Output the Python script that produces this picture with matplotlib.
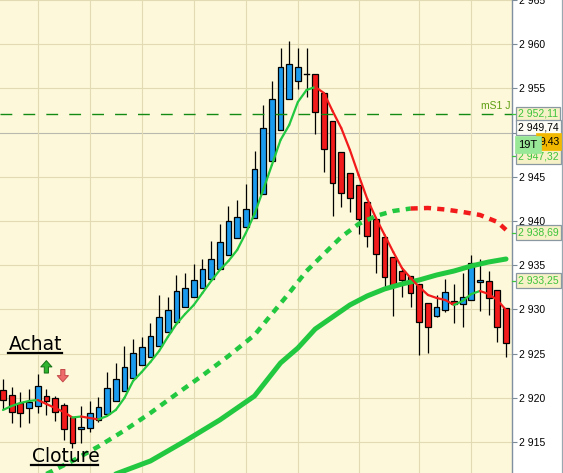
import numpy as np
import matplotlib.pyplot as plt
from matplotlib.patches import Rectangle
from matplotlib.lines import Line2D
from matplotlib.collections import LineCollection
from matplotlib.transforms import blended_transform_factory

# bars (OHLC)
opens = [2920.9, 2920.3, 2919.4, 2918.8, 2919.1, 2920.2, 2920.0, 2919.2, 2917.8, 2916.5,
         2916.6, 2917.5, 2918.2, 2919.6, 2920.8, 2922.2, 2923.7, 2924.6, 2925.9, 2927.4,
         2928.6, 2930.3, 2931.4, 2932.4, 2933.4, 2934.6, 2936.2, 2938.1, 2939.3, 2940.3,
         2943.1, 2946.8, 2950.3, 2953.8, 2955.8, 2956.6, 2956.6, 2954.5, 2951.3, 2947.8,
         2945.4, 2944.1, 2942.1, 2940.2, 2938.2, 2935.9, 2934.3, 2933.8, 2932.9, 2930.7,
         2929.3, 2929.9, 2931.0, 2930.6, 2931.1, 2933.1, 2933.2, 2932.2, 2930.2]
highs = [2922.1, 2921.2, 2920.7, 2921.0, 2922.7, 2921.0, 2920.2, 2919.4, 2917.8, 2919.1,
         2919.6, 2920.1, 2922.9, 2923.9, 2925.9, 2926.7, 2926.9, 2928.5, 2931.6, 2931.4,
         2933.9, 2934.1, 2935.1, 2935.7, 2937.7, 2939.7, 2941.7, 2942.4, 2944.2, 2947.9,
         2953.1, 2955.8, 2959.6, 2960.4, 2959.6, 2959.6, 2956.6, 2954.5, 2951.3, 2947.8,
         2945.4, 2944.1, 2942.1, 2940.2, 2938.2, 2935.9, 2934.7, 2933.8, 2932.9, 2930.7,
         2931.6, 2933.4, 2932.9, 2934.1, 2936.2, 2935.7, 2934.3, 2932.2, 2930.2]
lows = [2918.7, 2917.1, 2916.7, 2917.1, 2918.3, 2918.0, 2917.4, 2915.2, 2914.3, 2914.9,
        2916.1, 2917.3, 2918.2, 2919.6, 2920.8, 2922.2, 2923.7, 2924.6, 2925.9, 2927.4,
        2928.6, 2930.3, 2931.4, 2932.4, 2933.4, 2934.6, 2936.2, 2938.1, 2939.3, 2940.3,
        2943.1, 2946.8, 2950.3, 2953.8, 2954.9, 2954.0, 2949.8, 2945.5, 2940.6, 2941.6,
        2941.0, 2938.5, 2937.1, 2934.1, 2932.4, 2929.3, 2931.4, 2930.3, 2924.8, 2925.1,
        2929.1, 2929.7, 2928.5, 2928.0, 2931.1, 2929.8, 2929.4, 2926.3, 2924.6]
closes = [2919.8, 2918.4, 2918.3, 2919.5, 2921.3, 2919.6, 2918.4, 2916.5, 2914.9, 2916.7,
          2918.3, 2919.0, 2921.1, 2922.1, 2923.5, 2925.1, 2925.7, 2927.0, 2929.1, 2929.9,
          2932.1, 2932.4, 2933.3, 2934.6, 2935.7, 2937.6, 2940.0, 2940.5, 2941.4, 2945.9,
          2950.5, 2953.8, 2957.4, 2957.8, 2957.4, 2956.6, 2952.3, 2948.1, 2944.3, 2943.2,
          2942.6, 2940.2, 2938.3, 2936.3, 2933.7, 2932.6, 2933.3, 2931.9, 2928.6, 2928.0,
          2930.3, 2932.0, 2930.6, 2931.4, 2935.2, 2933.3, 2931.3, 2928.0, 2926.2]

# fast average (thin line), one value per bar
ma_fast = [2918.62, 2919.07, 2919.41, 2919.64, 2919.75, 2919.30, 2918.85, 2918.39, 2917.77, 2917.88,
           2917.71, 2917.55, 2917.94, 2918.62, 2919.98, 2921.90, 2922.92, 2924.05, 2925.29, 2926.88,
           2928.35, 2929.48, 2930.50, 2931.86, 2933.21, 2934.46, 2935.48, 2936.72, 2938.64, 2940.79,
           2943.51, 2946.33, 2949.16, 2950.86, 2953.46, 2954.82, 2955.16, 2954.48, 2952.44, 2950.52,
           2948.03, 2945.20, 2942.49, 2940.34, 2938.42, 2936.49, 2934.68, 2933.55, 2932.53, 2931.63,
           2931.29, 2931.06, 2930.50, 2930.95, 2931.74, 2932.08, 2931.74, 2931.06, 2929.93]

# medium average (thick dashed)
ma_mid_bar = [5, 8, 11, 14, 17, 20, 23, 26, 29, 31, 33, 35, 37, 39, 41, 43, 45, 47, 49, 51, 53, 55, 57, 58]
ma_mid = [2911.38, 2912.85, 2914.49, 2916.30, 2918.28, 2920.43, 2922.52, 2924.73, 2927.10, 2929.48,
          2931.86, 2934.34, 2936.27, 2938.19, 2939.66, 2940.57, 2941.13, 2941.41, 2941.47, 2941.30,
          2941.02, 2940.68, 2939.89, 2939.00]

# slow average (thick solid)
ma_slow_bar = [13, 17, 21, 25, 29, 32, 34, 36, 38, 40, 42, 44, 46, 48, 50, 52, 54, 56, 58]
ma_slow = [2911.38, 2912.85, 2915.11, 2917.49, 2920.20, 2923.94, 2925.63, 2927.78, 2929.14, 2930.50,
           2931.52, 2932.31, 2932.87, 2933.33, 2933.89, 2934.34, 2934.91, 2935.36, 2935.70]

pivot_mS1 = 2952.11
time_grid_bars = [4, 10, 16, 22, 28, 34, 41, 48, 54]
price_ticks = [2915, 2920, 2925, 2930, 2935, 2940, 2945, 2950, 2955, 2960, 2965]
hidden_tick = 2950  # covered by the price tags

BG = '#fcf8d9'
GRID = '#e2dab2'
GREEN = '#22c840'
RED = '#f21a1a'
BLUE = '#1a9bee'

fig = plt.figure(figsize=(5.63, 4.73), dpi=100)
fig.patch.set_facecolor('white')
ax = fig.add_axes([0, 0, 512 / 563, 1])
ax.set_facecolor(BG)
ax.set_xlim(-0.346, 58.69)
ax.set_ylim(2911.49, 2965.0)

# grid
for p in price_ticks:
    ax.axhline(p, color='#b9b9b0' if p == hidden_tick else GRID, lw=0.8, zorder=0)
for b in time_grid_bars:
    ax.axvline(b, color=GRID, lw=0.8, zorder=0)

# candles
n = len(opens)
for i in range(n):
    o, h, l, c = opens[i], highs[i], lows[i], closes[i]
    ax.plot([i, i], [l, h], color='black', lw=0.9, zorder=2, solid_capstyle='butt')
    if c == o:
        ax.plot([i - 0.34, i + 0.34], [c, c], color='black', lw=1.0, zorder=3)
        continue
    col = BLUE if c > o else RED
    ax.add_patch(Rectangle((i - 0.33, min(o, c)), 0.66, abs(c - o),
                           facecolor=col, edgecolor='black', lw=0.9, zorder=3))

# pivot line
ax.axhline(pivot_mS1, color='#138a13', lw=1.0, dashes=(8.5, 8), zorder=4)
ax.text(0.998, pivot_mS1 + 0.3, 'mS1 J', transform=blended_transform_factory(ax.transAxes, ax.transData),
        ha='right', va='bottom', fontsize=7.5, color='#5d9e12', family='Liberation Sans', zorder=6)

# slow average
ax.plot(ma_slow_bar, ma_slow, color=GREEN, lw=3.6, zorder=5, solid_capstyle='round',
        solid_joinstyle='round')

# medium average, green while rising, red after the top
k = ma_mid_bar.index(47)
ax.plot(ma_mid_bar[:k + 1], ma_mid[:k + 1], color=GREEN, lw=3.2, dashes=(1.6, 1.4), zorder=5)
ax.plot(ma_mid_bar[k:], ma_mid[k:], color=RED, lw=3.2, dashes=(1.6, 1.4), zorder=5)

# fast average, colour by direction
xs = np.arange(n)
segs = [[(xs[j], ma_fast[j]), (xs[j + 1], ma_fast[j + 1])] for j in range(n - 1)]
cols = [GREEN if ma_fast[j + 1] >= ma_fast[j] else RED for j in range(n - 1)]
ax.add_collection(LineCollection(segs, colors=cols, linewidths=1.6, zorder=6, capstyle='round'))

# buy / close arrows
ax.annotate('', xy=(5.0, 2924.2), xytext=(5.0, 2922.8),
            arrowprops=dict(arrowstyle='simple,head_length=0.45,head_width=0.8,tail_width=0.3',
                            fc='#2eb42e', ec='#156f15', lw=0.7, shrinkA=0, shrinkB=0, mutation_scale=10),
            zorder=7)
ax.annotate('', xy=(6.9, 2921.8), xytext=(6.9, 2923.2),
            arrowprops=dict(arrowstyle='simple,head_length=0.45,head_width=0.8,tail_width=0.3',
                            fc='#ee6b6b', ec='#c44848', lw=0.7, shrinkA=0, shrinkB=0, mutation_scale=10),
            zorder=7)

ax.text(9 / 512, 1 - 350 / 473, 'Achat', transform=ax.transAxes, fontsize=13.5,
        color='black', va='baseline', ha='left', zorder=8)
ax.text(32 / 512, 1 - 462 / 473, 'Cloture', transform=ax.transAxes, fontsize=13.5,
        color='black', va='baseline', ha='left', zorder=8)
ax.add_line(Line2D([8 / 512, 62 / 512], [1 - 353 / 473] * 2, transform=ax.transAxes,
                   color='black', lw=1.6, zorder=8))
ax.add_line(Line2D([31 / 512, 98 / 512], [1 - 465 / 473] * 2, transform=ax.transAxes,
                   color='black', lw=1.6, zorder=8))

# right price axis
for s in ['top', 'left', 'bottom']:
    ax.spines[s].set_visible(False)
ax.spines['right'].set_color('#8090a0')
ax.spines['right'].set_linewidth(1.0)
ax.set_xticks([])
ax.yaxis.tick_right()
ax.set_yticks(price_ticks)
ax.set_yticklabels(['' if p == hidden_tick else f'{p:,}'.replace(',', ' ') for p in price_ticks])
ax.tick_params(axis='y', direction='out', length=3.8, width=0.8, colors='#7a8a96',
               labelcolor='black', labelsize=7.5, pad=1.5)
for t in ax.get_yticklabels():
    t.set_family('Liberation Sans')

# price tags on the scale
tr = blended_transform_factory(ax.transAxes, ax.transData)
tags = [(2952.11, '2 952,11', '#3cc43c', '#f6f1c6'),
        (2947.32, '2 947,32', '#3cc43c', '#f6f1c6'),
        (2938.69, '2 938,69', '#3cc43c', '#f6f1c6'),
        (2933.25, '2 933,25', '#3cc43c', '#f6f1c6')]
for p, lab, tc, bc in tags:
    ax.text(1.0117, p, lab, transform=tr, ha='left', va='center', fontsize=7.5, color=tc,
            family='Liberation Sans', zorder=10,
            bbox=dict(boxstyle='square,pad=0.22', fc=bc, ec='#8a98a2', lw=0.9))
    ax.plot([1.0, 1.01], [p, p], transform=tr, color='#3cc43c', lw=0.9, clip_on=False, zorder=9)

ax.text(1.0117, 2950.55, '2 949,74', transform=tr, ha='left', va='center', fontsize=7.5,
        color='black', family='Liberation Sans', zorder=10,
        bbox=dict(boxstyle='square,pad=0.22', fc='#fdfdf6', ec='#8a98a2', lw=0.9))
ax.text(1.053, 2949.0, '9,43', transform=tr, ha='left', va='center', fontsize=7.5,
        color='black', family='Liberation Sans', zorder=11,
        bbox=dict(boxstyle='square,pad=0.3', fc='#f2b800', ec='#f2b800', lw=0.5))
ax.text(1.012, 2948.65, '19T', transform=tr, ha='left', va='center', fontsize=8,
        color='black', family='Liberation Sans', zorder=12,
        bbox=dict(boxstyle='square,pad=0.3', fc='#98e898', ec='#98e898', lw=0.5))

fig.add_artist(Line2D([561.5 / 563] * 2, [0, 1], transform=fig.transFigure, color='#9aa6b0', lw=0.9))

plt.savefig('out.png', dpi=100, facecolor='white')
